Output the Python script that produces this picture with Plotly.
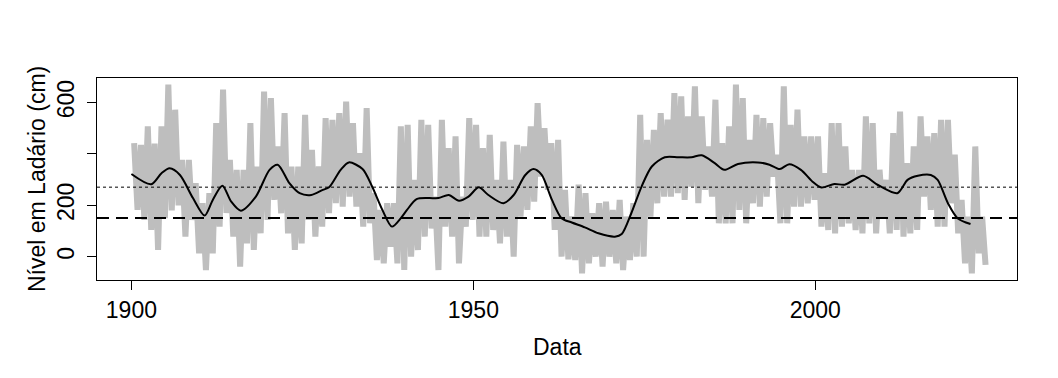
import plotly.graph_objects as go

# ---- data ----
years = list(range(1900, 2025))

annual_max = [
    442, 435, 507, 440, 507, 670, 572, 377, 377, 286,
    208, 247, 520, 650, 377, 338, 338, 520, 351, 643,
    617, 429, 559, 351, 351, 552, 416, 351, 539, 533,
    559, 604, 520, 403, 578, 247, 182, 208, 208, 507,
    513, 299, 533, 513, 234, 533, 423, 468, 234, 539,
    513, 423, 474, 299, 448, 299, 435, 429, 507, 598,
    500, 442, 455, 260, 156, 280, 247, 169, 208, 214,
    182, 221, 156, 208, 552, 455, 494, 559, 533, 637,
    624, 546, 663, 546, 429, 611, 442, 507, 670, 617,
    455, 552, 539, 520, 397, 663, 513, 572, 468, 468,
    468, 325, 520, 520, 429, 338, 338, 546, 520, 338,
    299, 481, 565, 364, 429, 546, 468, 481, 533, 533,
    397, 221, 156, 429, 156,
]

annual_min = [
    182, 143, 104, 26, 150, 180, 200, 78, 143, 13,
    -52, 13, 117, 170, 78, -39, 52, 26, 91, 143,
    221, 169, 91, 26, 52, 143, 78, 117, 169, 208,
    195, 234, 195, 117, 130, -13, -26, 39, -26, -52,
    0, 26, 78, 110, -52, 117, 78, -26, 117, 143,
    78, 78, 104, 52, 78, 0, 156, 182, 214, 312,
    260, 104, 0, -10, -13, -65, -26, 0, -39, 0,
    -26, -52, -13, 0, 0, 156, 208, 234, 234, 247,
    221, 273, 208, 260, 234, 130, 130, 130, 182, 130,
    208, 195, 234, 312, 130, 130, 195, 195, 208, 221,
    117, 104, 91, 117, 130, 104, 91, 130, 91, 156,
    91, 104, 78, 91, 104, 234, 182, 117, 117, 208,
    91, -26, -65, 13, -32,
]

smooth_years = [
    1900, 1902.9, 1904.4, 1905.6, 1907.1, 1909, 1910.7, 1911.9, 1913.3, 1914.6,
    1916, 1918.2, 1920.2, 1921.4, 1923.1, 1924.6, 1926.3, 1928, 1928.9, 1930.6,
    1931.8, 1933.8, 1935.2, 1936.7, 1938.1, 1939.4, 1940.3, 1941.7, 1943.5, 1944.9,
    1946.4, 1947.9, 1949.3, 1950.8, 1952.2, 1954.4, 1955.9, 1957.6, 1958.8, 1960,
    1961.5, 1962.9, 1964.4, 1966.3, 1968.3, 1970.7, 1971.7, 1973.1, 1974.6, 1976.1,
    1978, 1980, 1981.9, 1983.4, 1985.3, 1986.7, 1988.7, 1991.6, 1993.3, 1994.8,
    1996.2, 1997.9, 1999.6, 2000.9, 2002.8, 2004.3, 2007, 2009.1, 2012, 2013.5,
    2015, 2016.9, 2017.9, 2019.4, 2020.8, 2022.7,
]
smooth_values = [
    322, 282, 325, 344, 318, 228, 160, 221, 276, 214,
    179, 234, 338, 358, 286, 247, 240, 260, 270, 338,
    367, 341, 273, 182, 117, 150, 182, 224, 228, 228,
    240, 218, 234, 270, 240, 208, 240, 318, 341, 318,
    221, 150, 133, 114, 91, 78, 88, 169, 273, 351,
    387, 387, 387, 395, 364, 338, 361, 367, 358, 341,
    360, 338, 292, 269, 283, 280, 315, 280, 247, 299,
    315, 318, 299, 208, 150, 127,
]

mean_level = 270.6
threshold_level = 151

x_ticks = [1900, 1950, 2000]
y_ticks = [0, 200, 400, 600]
y_tick_labels = ["0", "200", "", "600"]

# ---- build gray monthly-like trace (annual high and low) ----
gx, gy = [], []
for yr, hi, lo in zip(years, annual_max, annual_min):
    gx += [yr + 0.4, yr + 0.9]
    gy += [hi, lo]

FONT = "Liberation Sans, Arial, sans-serif"

fig = go.Figure()
fig.add_trace(go.Scatter(
    x=gx, y=gy, mode="lines",
    line=dict(color="#bebebe", width=6),
    hoverinfo="skip", showlegend=False,
))
fig.add_trace(go.Scatter(
    x=smooth_years, y=smooth_values, mode="lines",
    line=dict(color="black", width=2, shape="spline", smoothing=0.8),
    showlegend=False,
))
fig.add_hline(y=mean_level, line=dict(color="black", width=1, dash="dot"))
fig.add_hline(y=threshold_level, line=dict(color="black", width=2, dash="12px,7px"))

fig.update_layout(
    width=1058, height=378,
    margin=dict(l=89, r=49, t=70, b=106),
    paper_bgcolor="white", plot_bgcolor="white",
    font=dict(family=FONT, size=23, color="black"),
    xaxis=dict(
        range=[1894.97, 2029.5], tickvals=x_ticks,
        ticks="outside", ticklen=9, tickcolor="black", tickwidth=1,
        showline=True, mirror=True, linecolor="black", linewidth=1,
        showgrid=False, zeroline=False,
        tickfont=dict(family=FONT, size=23, color="black"),
    ),
    yaxis=dict(
        range=[-90.8, 695.5], tickvals=y_ticks, ticktext=y_tick_labels,
        tickangle=-90,
        ticks="outside", ticklen=9, tickcolor="black", tickwidth=1,
        showline=True, mirror=True, linecolor="black", linewidth=1,
        showgrid=False, zeroline=False,
        ticklabelstandoff=4,
        tickfont=dict(family=FONT, size=23, color="black"),
    ),
    annotations=[
        dict(text="Data", xref="paper", yref="paper", x=0.5, y=-0.332,
             xanchor="center", yanchor="middle", showarrow=False,
             font=dict(family=FONT, size=23, color="black")),
        dict(text="Nível em Ladário (cm)", xref="paper", yref="paper",
             x=-0.0652, y=0.5, xanchor="center", yanchor="middle",
             textangle=-90, showarrow=False,
             font=dict(family=FONT, size=23, color="black")),
    ],
)

fig.write_html("out.html")
